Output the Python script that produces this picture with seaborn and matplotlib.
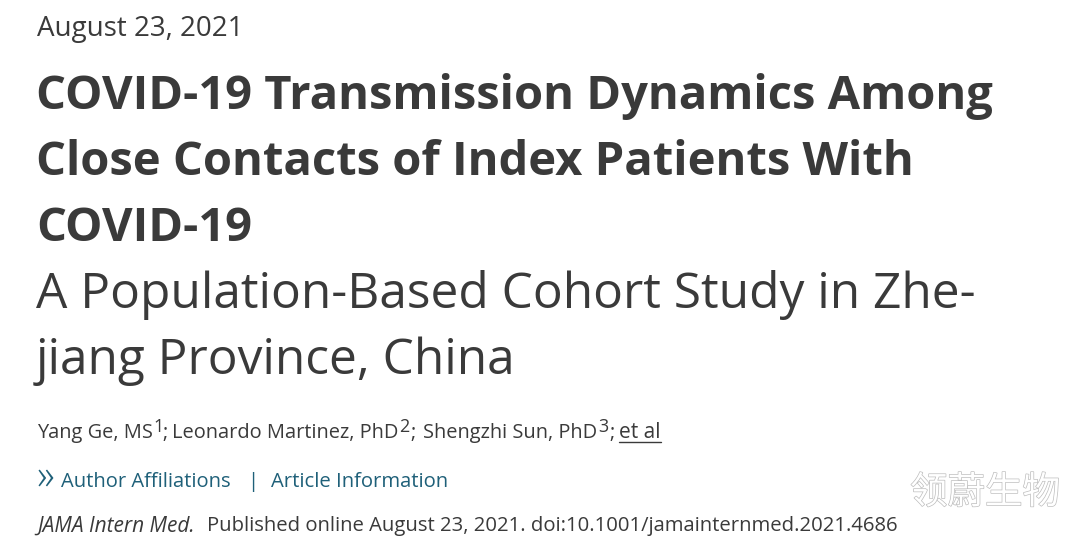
import matplotlib
matplotlib.use("Agg")
import matplotlib.patheffects as pe
import matplotlib.pyplot as plt
import seaborn as sns

sns.set_theme(style="white")
plt.rcParams["font.family"] = ["Open Sans", "Noto Sans CJK SC", "DejaVu Sans"]

DATE = "August 23, 2021"
TITLE_LINES = ["COVID-19 Transmission Dynamics Among",
               "Close Contacts of Index Patients With",
               "COVID-19"]
SUBTITLE_LINES = ["A Population-Based Cohort Study in Zhe-",
                  "jiang Province, China"]
AUTHORS = ["Yang Ge, MS", "Leonardo Martinez, PhD", "Shengzhi Sun, PhD"]
AUTHOR_MARKS = ["1", "2", "3"]
ET_AL = "et al"
AFFIL = "Author Affiliations"
ARTICLE = "Article Information"
JOURNAL = "JAMA Intern Med."
PUBLISHED = "Published online August 23, 2021. doi:10.1001/jamainternmed.2021.4686"
WATERMARK = "领蔚生物"

DARK = "#3a3a3a"
TEAL = "#1f6079"

W, H = 1080, 538
fig = plt.figure(figsize=(W / 100, H / 100), dpi=100, facecolor="white")
ax = fig.add_axes([0, 0, 1, 1])
ax.set_xlim(0, W)
ax.set_ylim(H, 0)
ax.axis("off")


def label(x, y, s, size, **kw):
    kw.setdefault("color", DARK)
    return ax.text(x, y, s, fontsize=size, va="center", ha="left", **kw)


label(37, 29, DATE, 20)
for y, line in zip([96.5, 162.5, 228.5], TITLE_LINES):
    label(36, y, line, 33.9, fontweight="bold")
for y, line in zip([295, 361], SUBTITLE_LINES):
    label(36, y, line, 35.7)

# author line: names with superscript affiliation numbers
for x, s in zip([37, 172, 423], AUTHORS):
    label(x, 433, s, 14.4)
for x, s in zip([153, 399, 598], AUTHOR_MARKS):
    label(x, 427, s, 13)
for x in [162, 410, 609]:
    label(x, 433, ";", 14.4)
label(619, 433, ET_AL, 15)
ax.plot([619, 661], [442, 442], color=DARK, lw=1)

label(37, 477, "\u00bb", 30, color=TEAL, fontweight="light")
label(61, 482, AFFIL, 14.5, color=TEAL)
label(247, 482, "|", 14.5, color=TEAL)
label(271, 482, ARTICLE, 14.6, color=TEAL)

label(37, 526, JOURNAL, 15, fontstyle="italic")
label(207, 526, PUBLISHED, 14.6)

wm = label(910, 493, WATERMARK, 27, color="white", zorder=3,
           family=["Noto Sans CJK SC", "DejaVu Sans"], fontweight="light")
wm.set_path_effects([pe.withStroke(linewidth=1.0, foreground="#bdbdbd")])

fig.savefig("out.png", dpi=100)
